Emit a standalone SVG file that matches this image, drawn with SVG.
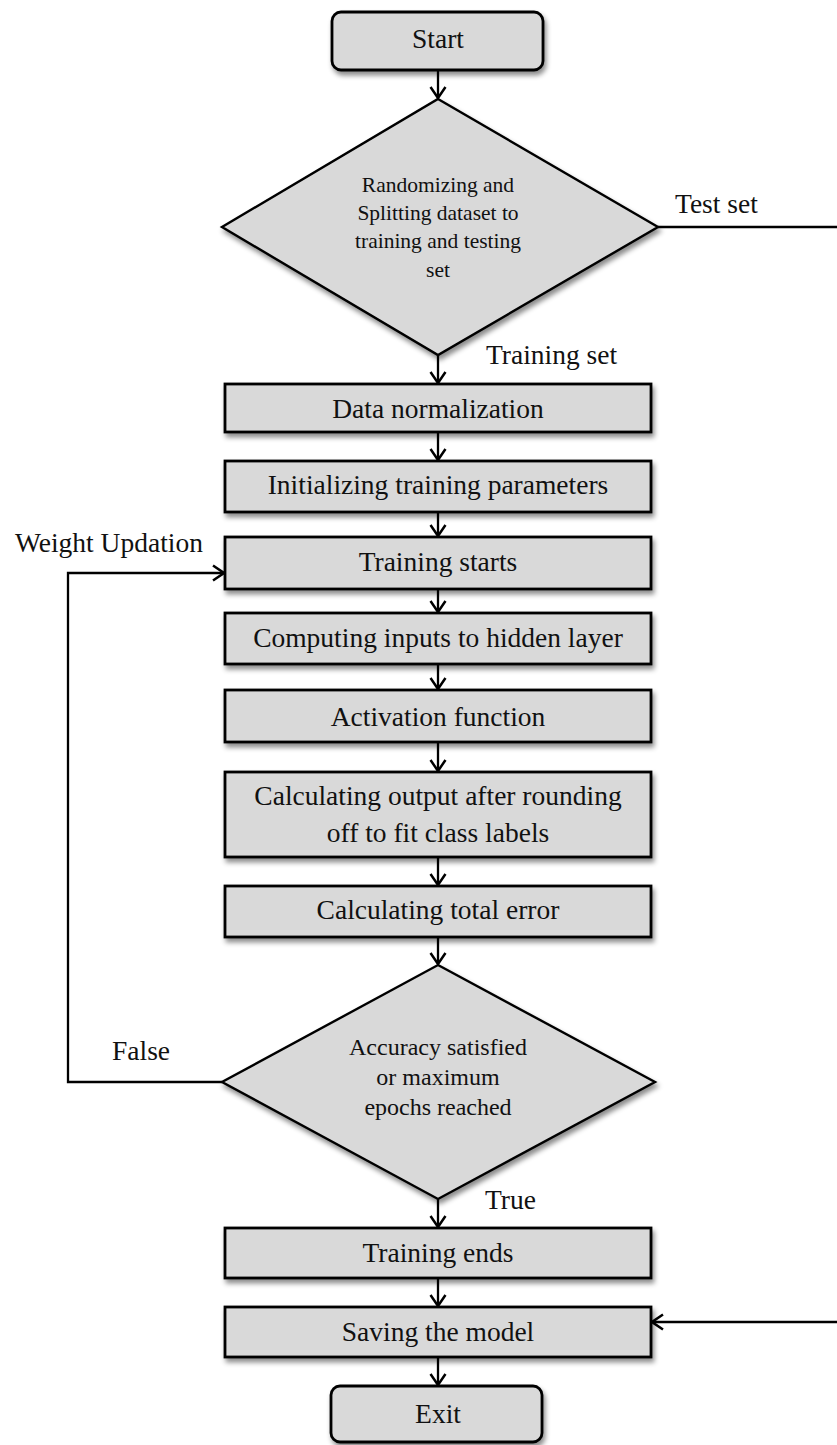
<svg xmlns="http://www.w3.org/2000/svg" width="837" height="1445" viewBox="0 0 837 1445">
  <style>
    .shape { fill: #d9d9d9; stroke: #000; stroke-width: 2.8; filter: url(#shadow); }
    .dia { fill: #d9d9d9; stroke: #000; stroke-width: 2.4; filter: url(#shadow); }
    .conn { fill: none; stroke: #000; stroke-width: 2.3; }
    .arrow { marker-end: url(#head); }
    text { font-family: "Liberation Serif", "Times New Roman", serif; fill: #111; }
    .t { font-size: 27.5px; text-anchor: middle; }
    .d1 { font-size: 21.5px; text-anchor: middle; }
    .d2 { font-size: 24px; text-anchor: middle; }
    .lbl { font-size: 27.5px; }
  </style>
  <defs>
    <filter id="shadow" x="-10%" y="-10%" width="130%" height="140%">
      <feDropShadow dx="2" dy="4" stdDeviation="2.5" flood-color="#000" flood-opacity="0.45"/>
    </filter>
    <marker id="head" markerWidth="14" markerHeight="18" refX="12" refY="9" orient="auto" markerUnits="userSpaceOnUse">
      <path d="M1,1.5 L12,9 L1,16.5" fill="none" stroke="#000" stroke-width="2.5"/>
    </marker>
  </defs>

  <!-- connectors -->
  <g id="connectors">
    <line class="conn arrow" x1="438" y1="70" x2="438" y2="98"/>
    <line class="conn arrow" x1="438" y1="355" x2="438" y2="383"/>
    <line class="conn arrow" x1="438" y1="432" x2="438" y2="460"/>
    <line class="conn arrow" x1="438" y1="512" x2="438" y2="536"/>
    <line class="conn arrow" x1="438" y1="589" x2="438" y2="612"/>
    <line class="conn arrow" x1="438" y1="664" x2="438" y2="689"/>
    <line class="conn arrow" x1="438" y1="742" x2="438" y2="771"/>
    <line class="conn arrow" x1="438" y1="857" x2="438" y2="885"/>
    <line class="conn arrow" x1="438" y1="937" x2="438" y2="964"/>
    <line class="conn arrow" x1="438" y1="1199" x2="438" y2="1227"/>
    <line class="conn arrow" x1="438" y1="1278" x2="438" y2="1306"/>
    <line class="conn arrow" x1="438" y1="1357" x2="438" y2="1385"/>
    <!-- retraining loop -->
    <polyline class="conn arrow" points="222,1082 68,1082 68,573 224,573"/>
    <!-- test set branch -->
    <line class="conn" x1="658" y1="227" x2="837" y2="227"/>
    <line class="conn arrow" x1="837" y1="1322" x2="652" y2="1322"/>
  </g>

  <g id="start">
    <rect class="shape" x="332" y="12" width="211" height="58" rx="9"/>
    <text class="t" x="438" y="48">Start</text>
  </g>

  <g id="split">
    <polygon class="dia" points="438,99 658,227 438,355 222,227"/>
    <text class="d1" x="438" y="192">Randomizing and</text>
    <text class="d1" x="438" y="220">Splitting dataset to</text>
    <text class="d1" x="438" y="248">training and testing</text>
    <text class="d1" x="438" y="277">set</text>
  </g>

  <g id="normalize">
    <rect class="shape" x="225" y="384" width="426" height="48"/>
    <text class="t" x="438" y="418">Data normalization</text>
  </g>

  <g id="init">
    <rect class="shape" x="225" y="461" width="426" height="51"/>
    <text class="t" x="438" y="494">Initializing training parameters</text>
  </g>

  <g id="train-start">
    <rect class="shape" x="225" y="537" width="426" height="52"/>
    <text class="t" x="438" y="571">Training starts</text>
  </g>

  <g id="hidden">
    <rect class="shape" x="225" y="613" width="426" height="51"/>
    <text class="t" x="438" y="647">Computing inputs to hidden layer</text>
  </g>

  <g id="activation">
    <rect class="shape" x="225" y="690" width="426" height="52"/>
    <text class="t" x="438" y="726">Activation function</text>
  </g>

  <g id="output">
    <rect class="shape" x="225" y="772" width="426" height="85"/>
    <text class="t" x="438" y="805">Calculating output after rounding</text>
    <text class="t" x="438" y="842">off to fit class labels</text>
  </g>

  <g id="error">
    <rect class="shape" x="225" y="886" width="426" height="51"/>
    <text class="t" x="438" y="919">Calculating total error</text>
  </g>

  <g id="check">
    <polygon class="dia" points="438,965 655,1082 438,1199 222,1082"/>
    <text class="d2" x="438" y="1055">Accuracy satisfied</text>
    <text class="d2" x="438" y="1085">or maximum</text>
    <text class="d2" x="438" y="1115">epochs reached</text>
  </g>

  <g id="train-end">
    <rect class="shape" x="225" y="1228" width="426" height="50"/>
    <text class="t" x="438" y="1262">Training ends</text>
  </g>

  <g id="save">
    <rect class="shape" x="225" y="1307" width="426" height="50"/>
    <text class="t" x="438" y="1341">Saving the model</text>
  </g>

  <g id="exit">
    <rect class="shape" x="331" y="1386" width="211" height="56" rx="9"/>
    <text class="t" x="438" y="1423">Exit</text>
  </g>

  <!-- connector labels -->
  <g id="labels">
    <text class="lbl" x="675" y="213">Test set</text>
    <text class="lbl" x="486" y="364">Training set</text>
    <text class="lbl" x="15" y="552">Weight Updation</text>
    <text class="lbl" x="112" y="1060">False</text>
    <text class="lbl" x="485" y="1209">True</text>
  </g>
</svg>
